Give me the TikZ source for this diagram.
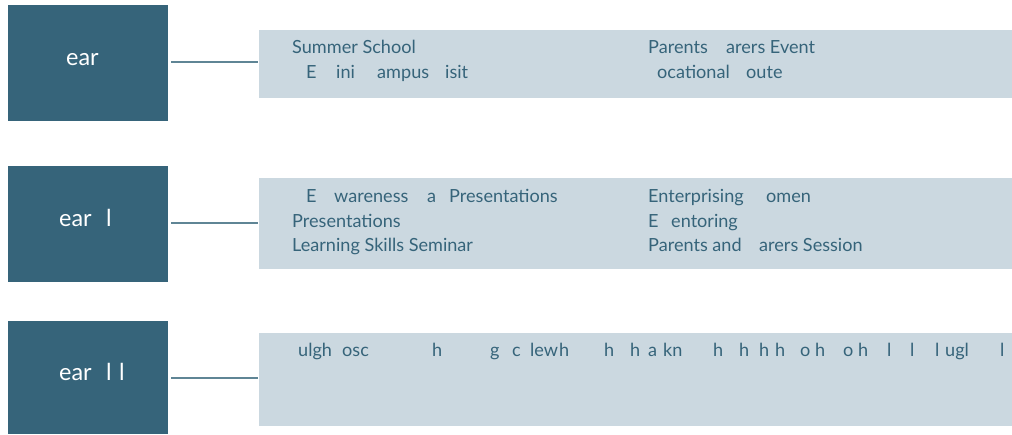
\documentclass[tikz,border=0pt]{standalone}
\usepackage{fontspec}
\setmainfont{Lato}
\definecolor{darkteal}{HTML}{36647A}
\definecolor{lightbg}{HTML}{CBD8E0}
\definecolor{linec}{HTML}{5F8595}
\begin{document}
\begin{tikzpicture}[x=1pt,y=-1pt,
  yearbox/.style={fill=darkteal,draw=none,inner sep=0pt,minimum width=160pt,anchor=north west},
  actbox/.style={fill=lightbg,draw=none,inner sep=0pt,minimum width=753pt,anchor=north west},
  yeartext/.style={text=white,font=\fontsize{23.4}{28}\selectfont,inner sep=0pt,anchor=base west},
  item/.style={text=darkteal,font=\fontsize{18.1}{21}\selectfont,inner sep=0pt,anchor=base west},
  link/.style={draw=linec,line width=1.2pt,shorten <=3pt,shorten >=1pt}]
\useasboundingbox (0,0) rectangle (1012,434);
% year boxes
\node[yearbox,minimum height=116pt] (y1) at (8,5) {};
\node[yearbox,minimum height=116pt] (y2) at (8,166) {};
\node[yearbox,minimum height=113pt] (y3) at (8,321) {};
\node[yeartext] (y1t) at (66,65) {ear};
\node[yeartext] (y2t) at (59,226) {ear};
\node[yeartext] (y2u) at (106,226) {l};
\node[yeartext] (y3t) at (59,380) {ear};
\node[yeartext] (y3u) at (106,380) {l};
\node[yeartext] (y3v) at (119,380) {l};
% activity boxes
\node[actbox,minimum height=68pt] (a1) at (259,30) {};
\node[actbox,minimum height=91pt] (a2) at (259,178) {};
\node[actbox,minimum height=93pt] (a3) at (259,333) {};
% connectors
\draw[link] (y1.east |- 0,62) coordinate (c1) -- (a1.west |- c1);
\draw[link] (y2.east |- 0,223) coordinate (c2) -- (a2.west |- c2);
\draw[link] (y3.east |- 0,378) coordinate (c3) -- (a3.west |- c3);
% row 1
\node[item] (r1a) at (292,53) {Summer School};
\foreach \x/\t [count=\i] in {306/E,336/ini,377/ampus,445/isit}
  \node[item] (r1b\i) at (\x,78) {\t};
\node[item] (r1c) at (648,53) {Parents};
\node[item] (r1d) at (726,53) {arers Event};
\node[item] (r1e) at (657,78) {ocational};
\node[item] (r1f) at (746,78) {oute};
% row 2
\foreach \x/\t [count=\i] in {306/E,334/wareness,427/a,449/Presentations}
  \node[item] (r2a\i) at (\x,202) {\t};
\node[item] (r2b) at (292,227) {Presentations};
\node[item] (r2c) at (292,251) {Learning Skills Seminar};
\node[item] (r2d) at (648,202) {Enterprising};
\node[item] (r2e) at (766,202) {omen};
\node[item] (r2f) at (648,227) {E};
\node[item] (r2g) at (671,227) {entoring};
\node[item] (r2h) at (648,251) {Parents and};
\node[item] (r2i) at (759,251) {arers Session};
% row 3
\foreach \x/\t [count=\i] in {298/ulgh,342/osc,432/h,490/g,512/c,530/lew,559/h,604/h,630/h,648/a,663/kn,713/h,739/h,759/h,775/h,800/o,815/h,843/o,858/h,887/l,910/l,935/l,945/ugl,1000/l}
  \node[item] (r3\i) at (\x,356) {\t};
\end{tikzpicture}
\end{document}
